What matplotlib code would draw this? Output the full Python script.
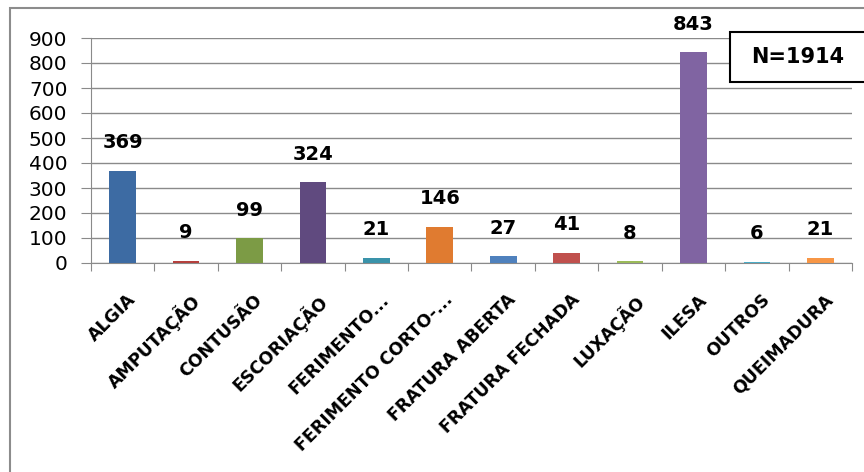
import matplotlib
matplotlib.use("Agg")
import matplotlib.pyplot as plt
from matplotlib.patches import Rectangle

categories = ["ALGIA", "AMPUTAÇÃO", "CONTUSÃO", "ESCORIAÇÃO", "FERIMENTO...",
              "FERIMENTO CORTO-...", "FRATURA ABERTA", "FRATURA FECHADA",
              "LUXAÇÃO", "ILESA", "OUTROS", "QUEIMADURA"]
values = [369, 9, 99, 324, 21, 146, 27, 41, 8, 843, 6, 21]
colors = ["#3D6BA3", "#B5403D", "#7C9B45", "#604A7F", "#3A93AA", "#E07B30",
          "#4F81BD", "#C0504D", "#9BBB59", "#8064A2", "#4BACC6", "#F79646"]
yticks = [0, 100, 200, 300, 400, 500, 600, 700, 800, 900]
note = "N=1914"

W, H = 864, 472
fig = plt.figure(figsize=(W/100, H/100), dpi=100)
fig.patch.set_facecolor("white")
ax = fig.add_axes([91/W, 1-263/H, (852-91)/W, (263-38)/H])

x = list(range(len(categories)))
ax.bar(x, values, width=0.42, color=colors, zorder=3)
ax.set_xlim(-0.5, len(categories)-0.5)
ax.set_ylim(0, 900)
ax.set_yticks(yticks)
ax.set_yticklabels([str(t) for t in yticks], fontsize=14.5, family="DejaVu Sans")
ax.yaxis.grid(True, color="#8a8a8a", lw=1, zorder=0)
ax.set_axisbelow(True)
for s in ["top", "right"]:
    ax.spines[s].set_visible(False)
for s in ["left", "bottom"]:
    ax.spines[s].set_color("#8a8a8a")
ax.tick_params(axis="y", length=7, color="#8a8a8a", pad=10)
ax.set_xticks([i-0.5 for i in range(len(categories)+1)], minor=False)
ax.set_xticklabels([])
ax.tick_params(axis="x", length=6, color="#8a8a8a")
ax.set_xticks([xi + 0.06 for xi in x], minor=True)
ax.set_xticklabels(categories, minor=True, rotation=45, ha="right",
                   rotation_mode="anchor", fontsize=12.5, fontweight="bold",
                   family="DejaVu Sans")
ax.tick_params(axis="x", which="minor", length=0, pad=20)

for xi, v in zip(x, values):
    ax.annotate(str(v), (xi, v), xytext=(0, 20), textcoords="offset points",
                ha="center", va="center", fontsize=14, fontweight="bold",
                family="DejaVu Sans")

fig.add_artist(Rectangle((730/W, 1-82/H), 140/W, 50/H, transform=fig.transFigure,
                         fc="white", ec="black", lw=1.5, clip_on=False, zorder=5))
fig.text(798/W, 1-57/H, note, ha="center", va="center", fontsize=15,
         fontweight="bold", family="DejaVu Sans", zorder=6)
fig.add_artist(Rectangle((10/W, -0.1), 1.0, 1.1-8/H, transform=fig.transFigure,
                         fill=False, ec="#8c8c8c", lw=1.5, clip_on=False))
fig.savefig("out.png", dpi=100)
